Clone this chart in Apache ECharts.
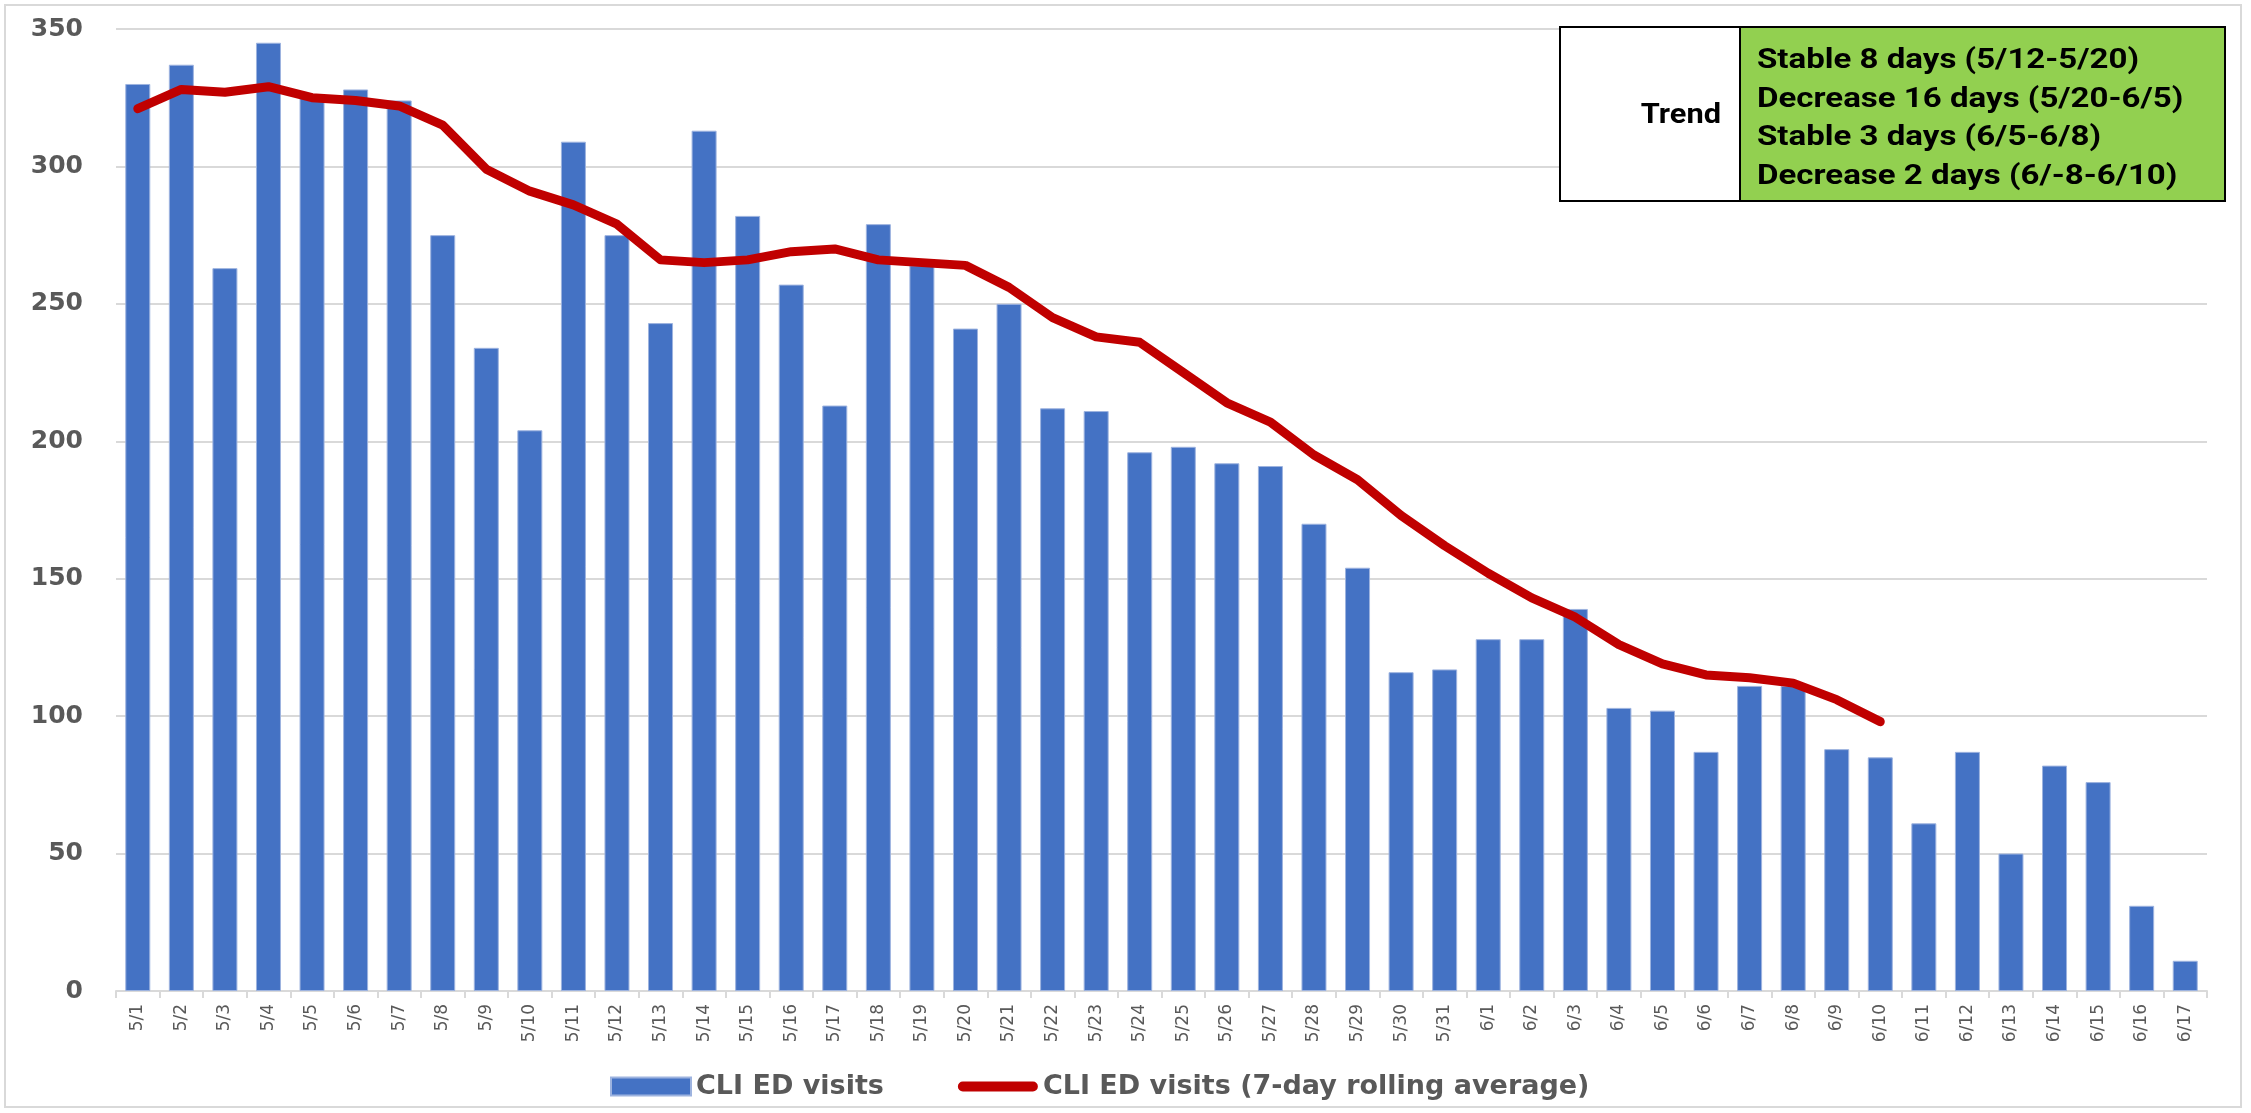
<!DOCTYPE html>
<html>
<head>
<meta charset="utf-8">
<title>CLI ED visits</title>
<script src="https://cdn.jsdelivr.net/npm/echarts@6/dist/echarts.min.js"></script>
<style>
  html, body { margin: 0; padding: 0; background: #fff; }
  #chart { width: 2251px; height: 1113px; }
</style>
</head>
<body>
<div id="chart"></div>
<script>
// dates on the x axis
const dates = [
  '5/1', '5/2', '5/3', '5/4', '5/5', '5/6', '5/7', '5/8', '5/9', '5/10',
  '5/11', '5/12', '5/13', '5/14', '5/15', '5/16', '5/17', '5/18', '5/19', '5/20',
  '5/21', '5/22', '5/23', '5/24', '5/25', '5/26', '5/27', '5/28', '5/29', '5/30', '5/31',
  '6/1', '6/2', '6/3', '6/4', '6/5', '6/6', '6/7', '6/8', '6/9', '6/10',
  '6/11', '6/12', '6/13', '6/14', '6/15', '6/16', '6/17'
]

// daily CLI ED visits (bars)
const visits = [
  330, 337, 263, 345, 325, 328, 324, 275, 234, 204,
  309, 275, 243, 313, 282, 257, 213, 279, 264, 241,
  250, 212, 211, 196, 198, 192, 191, 170, 154, 116, 117,
  128, 128, 139, 103, 102, 87, 111, 111, 88, 85,
  61, 87, 50, 82, 76, 31, 11
]

// 7-day rolling average (line), stops at 6/10
const rollingAvg = [
  321, 328, 327, 329, 325, 324, 322, 315, 299, 291,
  286, 279, 266, 265, 266, 269, 270, 266, 265, 264,
  256, 245, 238, 236, 225, 214, 207, 195, 186, 173, 162,
  152, 143, 136, 126, 119, 115, 114, 112, 106, 98,
  null, null, null, null, null, null, null
]

const seriesNames = ['CLI ED visits', 'CLI ED visits (7-day rolling average)']

// trend table text
const trendTitle = 'Trend'
const trendLines = [
  'Stable 8 days (5/12-5/20)',
  'Decrease 16 days (5/20-6/5)',
  'Stable 3 days (6/5-6/8)',
  'Decrease 2 days (6/-8-6/10)'
]

const grey = '#595959'
const blue = '#4472C4'
const red = '#C00000'

const myChart = echarts.init(document.getElementById('chart'))
myChart.setOption({
  animation: false,
  backgroundColor: '#fff',
  grid: {
    left: 116,
    right: 44,
    top: 29,
    bottom: 122,
  },
  legend: {
    top: 1068,
    left: 605,
    itemWidth: 80,
    itemHeight: 18,
    itemGap: 74,
    symbolKeepAspect: true,
    textStyle: {
      fontFamily: 'DejaVu Sans',
      fontWeight: 'bold',
      fontSize: 27,
      color: grey,
    },
    data: [
      {name: seriesNames[0], icon: 'path://M0,0H80V18H0Z'},  // blue block
      {name: seriesNames[1], icon: 'path://M4.5,0H68.5A4.5,4.5 0 0 1 68.5,9H4.5A4.5,4.5 0 0 1 4.5,0Z'},  // thick red stroke
    ],
  },
  xAxis: {
    type: 'category',
    data: dates,
    axisLine: {lineStyle: {color: '#d9d9d9', width: 2}},
    axisTick: {show: true, length: 7, lineStyle: {color: '#d9d9d9', width: 2}},
    axisLabel: {
      interval: 0,
      rotate: 90,
      margin: 13,
      fontFamily: 'DejaVu Sans',
      fontSize: 17,
      color: grey,
    },
  },
  yAxis: {
    type: 'value',
    min: 0,
    max: 350,
    interval: 50,
    axisLine: {show: false},
    axisTick: {show: false},
    axisLabel: {
      margin: 33,
      fontFamily: 'DejaVu Sans',
      fontWeight: 'bold',
      fontSize: 25,
      color: grey,
    },
    splitLine: {lineStyle: {color: '#d9d9d9', width: 2}},
  },
  series: [
    {
      name: seriesNames[0],
      type: 'bar',
      data: visits,
      barWidth: 25,
      itemStyle: {color: blue, borderColor: '#9db3df', borderWidth: 1},
    },
    {
      name: seriesNames[1],
      type: 'line',
      data: rollingAvg,
      symbol: 'none',
      connectNulls: false,
      z: 5,
      itemStyle: {color: red},
      lineStyle: {color: red, width: 9, cap: 'round', join: 'round'},
    },
  ],
  graphic: [
    // outer frame
    {
      type: 'rect',
      shape: {x: 5, y: 5, width: 2236, height: 1102},
      style: {fill: 'none', stroke: '#d9d9d9', lineWidth: 2},
      silent: true,
    },
    // trend table
    {
      type: 'rect',
      shape: {x: 1560, y: 27, width: 180, height: 174},
      style: {fill: '#fff', stroke: '#000', lineWidth: 2},
      z: 10,
    },
    {
      type: 'rect',
      shape: {x: 1740, y: 27, width: 485, height: 174},
      style: {fill: '#92D050', stroke: '#000', lineWidth: 2},
      z: 10,
    },
    {
      type: 'text',
      x: 1721,
      y: 116,
      scaleX: 1.1,
      z: 11,
      style: {
        text: trendTitle,
        align: 'right',
        verticalAlign: 'middle',
        fontFamily: 'Roboto',
        fontWeight: 'bold',
        fontSize: 28,
        fill: '#000',
      },
    },
    {
      type: 'text',
      x: 1757,
      y: 119,
      scaleX: 1.18,
      z: 11,
      style: {
        text: trendLines.join('\n'),
        align: 'left',
        verticalAlign: 'middle',
        fontFamily: 'Roboto',
        fontWeight: 'bold',
        fontSize: 28,
        lineHeight: 38.7,
        fill: '#000',
      },
    },
  ],
})
window.addEventListener('resize', () => myChart.resize())
</script>
</body>
</html>
